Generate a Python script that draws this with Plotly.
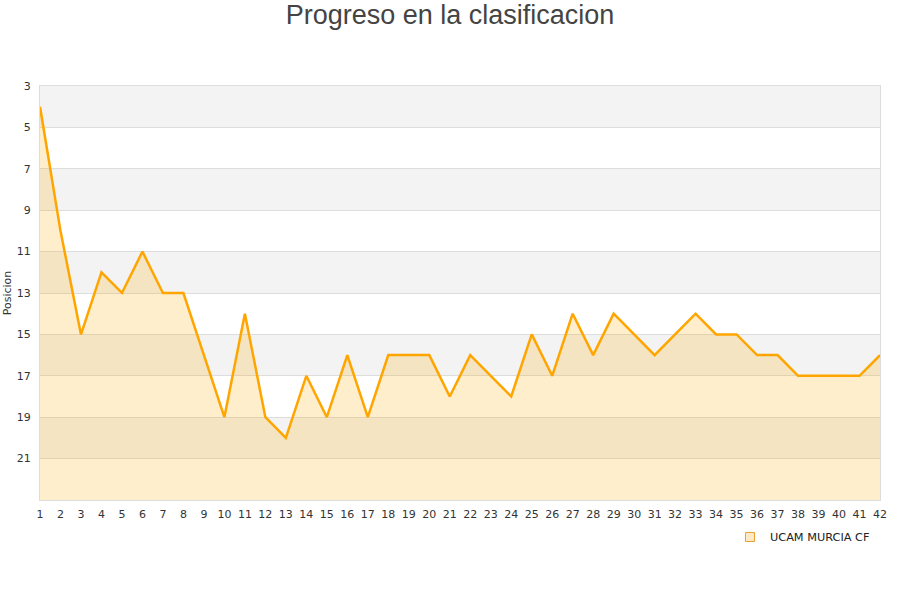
import plotly.graph_objects as go

jornadas = list(range(1, 43))
posiciones = [4, 10, 15, 12, 13, 11, 13, 13, 16, 19, 14, 19, 20, 17, 19, 16, 19, 16, 16, 16,
              18, 16, 17, 18, 15, 17, 14, 16, 14, 15, 16, 15, 14, 15, 15, 16, 16, 17, 17, 17,
              17, 16]
y_ticks = [3, 5, 7, 9, 11, 13, 15, 17, 19, 21]
equipo = "UCAM MURCIA CF"
titulo = "Progreso en la clasificacion"
y_min, y_max = 3, 23

fig = go.Figure()
fig.add_trace(go.Scatter(x=jornadas, y=[y_max] * len(jornadas), mode="lines",
                         line=dict(width=0), showlegend=False, hoverinfo="skip"))
fig.add_trace(go.Scatter(x=jornadas, y=posiciones, mode="lines", fill="tonexty",
                         fillcolor="rgba(255,170,0,0.2)",
                         line=dict(color="#ffa500", width=2.5), showlegend=False))
fig.add_trace(go.Scatter(x=[None], y=[None], mode="markers", name=equipo,
                         marker=dict(symbol="square", size=9, color="#fde9c4",
                                     line=dict(color="#e8a030", width=1))))

shapes = []
for i in range(0, len(y_ticks), 2):
    a = y_ticks[i]
    shapes.append(dict(type="rect", xref="paper", x0=0, x1=1, yref="y", y0=a, y1=a + 2,
                       fillcolor="#f3f3f3", line=dict(width=0), layer="below"))

fig.update_layout(
    width=900, height=600,
    paper_bgcolor="white", plot_bgcolor="white",
    margin=dict(l=40, r=20, t=86, b=100),
    title=dict(text=titulo, x=0.5, xanchor="center", y=0.975, yanchor="middle",
               font=dict(family="Liberation Sans, Arial", size=27, color="#444")),
    font=dict(family="DejaVu Sans, Arial", size=11, color="#333"),
    shapes=shapes,
    showlegend=True,
    legend=dict(x=0.8214, y=-0.0543, xanchor="left", yanchor="top", itemwidth=30,
                font=dict(size=11.3, color="#222"), bgcolor="rgba(0,0,0,0)"),
    xaxis=dict(range=[1, 42], tickvals=jornadas, showgrid=False, zeroline=False,
               showline=True, linecolor="#ddd", mirror=True, ticks="", automargin=False,
               ticklabelstandoff=4,
               tickfont=dict(size=11, color="#333")),
    yaxis=dict(range=[y_max, y_min], tickvals=y_ticks, showgrid=True, gridcolor="#ddd",
               zeroline=False, showline=True, linecolor="#ddd", mirror=True, ticks="",
               automargin=False, ticklabelstandoff=6,
               title=dict(text="Posicion", font=dict(size=11, color="#333"), standoff=2),
               tickfont=dict(size=11, color="#333")),
)

fig.write_html("out.html", config={"displayModeBar": False},
               post_script="document.body.style.margin='0px';")
